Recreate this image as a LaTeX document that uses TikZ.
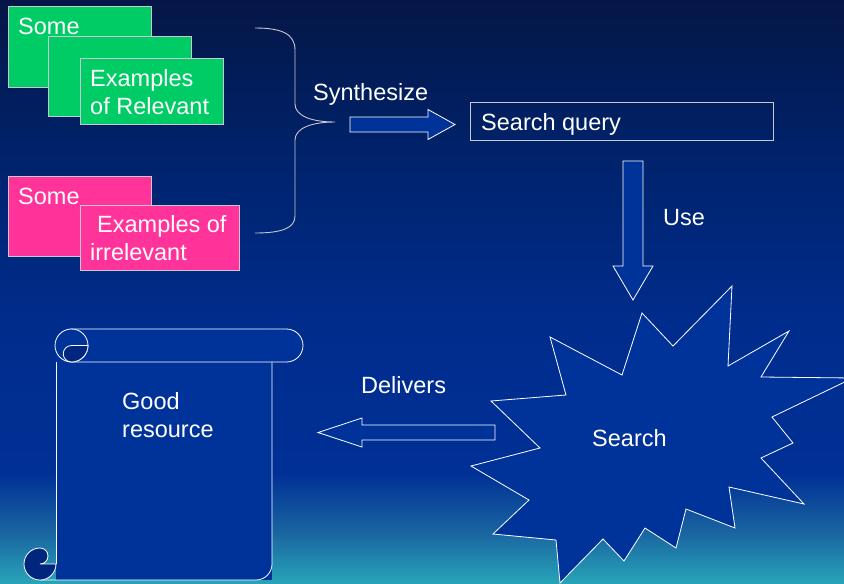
\documentclass[tikz,border=0pt]{standalone}
\usepackage{fontspec}
\setmainfont{Liberation Sans}
\usepackage{tikz}
\definecolor{bgtop}{RGB}{5,22,70}
\definecolor{bgnavy}{RGB}{0,34,105}
\definecolor{bgblue}{RGB}{0,44,140}
\definecolor{bgmid}{RGB}{0,48,150}
\definecolor{bgteal}{RGB}{25,100,160}
\definecolor{bgbot}{RGB}{40,165,185}
\definecolor{relgreen}{RGB}{0,204,102}
\definecolor{irrpink}{RGB}{255,51,153}
\definecolor{shapeblue}{RGB}{0,51,153}
\definecolor{curlblue}{RGB}{0,38,125}
\definecolor{edgegray}{RGB}{200,200,210}
\pgfdeclareverticalshading{bgfade}{100bp}{color(0bp)=(bgbot); color(25bp)=(bgbot);
  color(29.5bp)=(bgteal); color(34.5bp)=(bgmid); color(47.5bp)=(bgblue);
  color(62.5bp)=(bgnavy); color(75bp)=(bgtop); color(100bp)=(bgtop)}
\tikzstyle{examplebox} = [draw=edgegray, line width=0.8pt, rectangle, inner sep=0pt,
    anchor=north west]
\tikzstyle{lbl} = [text=white, font=\fontsize{23.5}{28}\selectfont, inner sep=0pt,
    anchor=base west, align=left]
\tikzstyle{whiteline} = [draw=white, line width=0.8pt]
\tikzset{pics/blockarrow/.style args={#1/#2/#3/#4}{code={%
    \filldraw[whiteline, fill=shapeblue] (0,-#2) -- (#1-#4,-#2) -- (#1-#4,-#3) -- (#1,0)
      -- (#1-#4,#3) -- (#1-#4,#2) -- (0,#2) -- cycle;}}}

\begin{document}
\begin{tikzpicture}[x=1pt, y=-1pt]
    \useasboundingbox (0,0) rectangle (844,584);
    \clip (0,0) rectangle (844,584);
    \shade[shading=bgfade] (0,0) rectangle (844,584);

    % relevant examples
    \node [examplebox, fill=relgreen, minimum width=143pt, minimum height=81pt] (relbox1) at (8,6) {};
    \node [examplebox, fill=relgreen, minimum width=143pt, minimum height=80pt] (relbox2) at (48,36) {};
    \node [examplebox, fill=relgreen, minimum width=143pt, minimum height=66pt] (relbox3) at (80,58) {};
    \node [lbl] (relsome) at (18,34) {Some};
    \node [lbl] (reltext) at (90,114) {Examples\\of Relevant};

    % irrelevant examples
    \node [examplebox, fill=irrpink, minimum width=143pt, minimum height=80pt] (irrbox1) at (8,176) {};
    \node [examplebox, fill=irrpink, minimum width=159pt, minimum height=65pt] (irrbox2) at (80,205) {};
    \node [lbl] (irrsome) at (18,204) {Some};
    \node [lbl] (irrtext) at (90,260) {\hspace*{7pt}Examples of\\irrelevant};

    % brace
    \coordinate (bracetip) at (335,122);
    \draw [edgegray, line width=0.9pt] (255,28) .. controls (282,28) and (295,34) .. (295,50)
        -- (295,104) .. controls (295,116) and (312,122) .. (bracetip)
        .. controls (312,122) and (295,128) .. (295,140)
        -- (295,216) .. controls (295,228) and (282,233) .. (255,233);

    % query
    \node [lbl] (synth) at (313,100) {Synthesize};
    \pic at (350,124.5) {blockarrow=105/7.5/15/27};
    \node [examplebox, minimum width=303pt, minimum height=38pt] (query) at (470,102) {};
    \node [lbl] (querytext) at (481,130) {Search query};
    \pic [rotate=-90] at (633,161) {blockarrow=139/10/20/34};
    \node [lbl] (use) at (663,225) {Use};

    % search burst
    \filldraw [whiteline, fill=shapeblue] (550,337) -- (622,375) -- (642,313) -- (673,346)
        -- (732,286) -- (728,366) -- (789,331) -- (761,377) -- (853,378) -- (772,417)
        -- (793,443) -- (761,458) -- (804,504) -- (729,487) -- (735,528) -- (686,509)
        -- (676,548) -- (645,528) -- (624,561) -- (603,539) -- (560,583) -- (556,540)
        -- (493,534) -- (529,500) -- (471,466) -- (540,448) -- (491,401) -- (566,395) -- cycle;
    \node [lbl] (search) at (592,446) {Search};

    % delivered resource
    \node [lbl] (deliv) at (361,393) {Delivers};
    \pic [rotate=180] at (495,432.5) {blockarrow=177/7.5/14.5/44};
    \fill [shapeblue] (56,345.5) -- (56,580) -- (272,580) -- (272,345.5) -- cycle;
    \draw [whiteline] (56,362) -- (56,564);
    \draw [whiteline, rounded corners=16pt] (40,580) -- (272,580) -- (272,362);
    \filldraw [whiteline, fill=shapeblue, rounded corners=16.5pt] (56,329) rectangle (303,362);
    \filldraw [whiteline, fill=shapeblue] (71.5,345.5) circle [radius=16.5];
    \filldraw [whiteline, fill=curlblue] (71.5,345.5) arc [start angle=270, end angle=90, radius=8.25]
        arc [start angle=90, end angle=0, radius=16.5] -- cycle;
    \filldraw [whiteline, fill=curlblue] (40,548) arc [start angle=270, end angle=0, radius=16]
        -- (40,564) arc [start angle=90, end angle=-90, radius=8] -- cycle;
    \node [lbl] (goodres) at (122,437) {Good\\resource};
\end{tikzpicture}
\end{document}
